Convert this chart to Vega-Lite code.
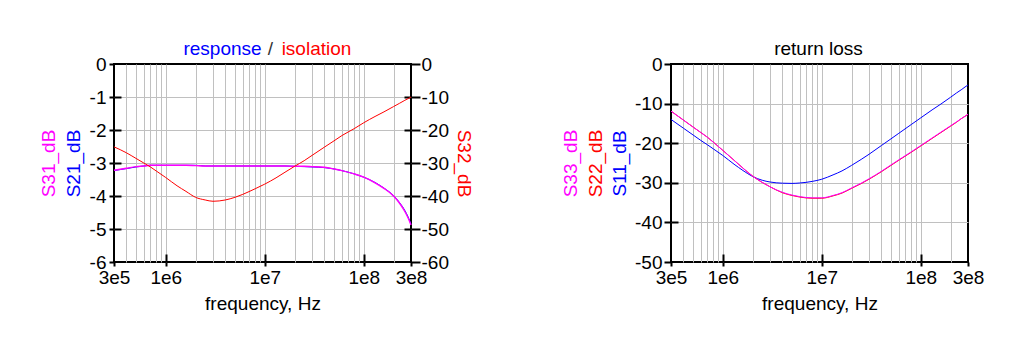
{
  "$schema": "https://vega.github.io/schema/vega-lite/v6.json",
  "background": "white",
  "padding": {"left": 38, "top": 38, "right": 0, "bottom": 0},
  "config": {
    "font": "Liberation Sans",
    "view": {"stroke": "black", "strokeWidth": 2},
    "axis": {
      "labelFont": "Liberation Sans", "titleFont": "Liberation Sans",
      "labelFontSize": 19, "titleFontSize": 19, "labelColor": "black", "titleColor": "black",
      "titleFontWeight": "normal", "gridColor": "#c0c0c0", "gridWidth": 1,
      "domain": false, "tickColor": "black", "tickWidth": 2,
      "labelFlush": false, "labelOverlap": false, "labelBound": false
    }
  },
  "datasets": {
    "left": [
      {"f": 300000, "S21": -3.23, "S31": -3.22, "S32": -25.1},
      {"f": 400000, "S21": -3.17, "S31": -3.16, "S32": -26.9},
      {"f": 500000, "S21": -3.12, "S31": -3.11, "S32": -28.6},
      {"f": 600000, "S21": -3.09, "S31": -3.09, "S32": -30.0},
      {"f": 700000, "S21": -3.07, "S31": -3.07, "S32": -31.2},
      {"f": 800000, "S21": -3.07, "S31": -3.07, "S32": -32.4},
      {"f": 1000000, "S21": -3.07, "S31": -3.07, "S32": -34.4},
      {"f": 1300000, "S21": -3.07, "S31": -3.07, "S32": -36.9},
      {"f": 1600000, "S21": -3.07, "S31": -3.07, "S32": -38.6},
      {"f": 2000000, "S21": -3.07, "S31": -3.08, "S32": -40.4},
      {"f": 2500000, "S21": -3.09, "S31": -3.09, "S32": -41.2},
      {"f": 3000000, "S21": -3.09, "S31": -3.09, "S32": -41.6},
      {"f": 4000000, "S21": -3.09, "S31": -3.09, "S32": -41.2},
      {"f": 5000000, "S21": -3.09, "S31": -3.09, "S32": -40.4},
      {"f": 6000000, "S21": -3.09, "S31": -3.09, "S32": -39.5},
      {"f": 8000000, "S21": -3.09, "S31": -3.09, "S32": -37.8},
      {"f": 10000000, "S21": -3.09, "S31": -3.09, "S32": -36.4},
      {"f": 13000000, "S21": -3.09, "S31": -3.09, "S32": -34.5},
      {"f": 16000000, "S21": -3.09, "S31": -3.09, "S32": -32.8},
      {"f": 20000000, "S21": -3.10, "S31": -3.10, "S32": -31.0},
      {"f": 25000000, "S21": -3.11, "S31": -3.10, "S32": -29.3},
      {"f": 30000000, "S21": -3.12, "S31": -3.11, "S32": -27.7},
      {"f": 40000000, "S21": -3.14, "S31": -3.13, "S32": -25.2},
      {"f": 50000000, "S21": -3.18, "S31": -3.18, "S32": -23.3},
      {"f": 60000000, "S21": -3.23, "S31": -3.23, "S32": -21.7},
      {"f": 80000000, "S21": -3.33, "S31": -3.33, "S32": -19.6},
      {"f": 100000000, "S21": -3.43, "S31": -3.43, "S32": -17.8},
      {"f": 130000000, "S21": -3.59, "S31": -3.60, "S32": -15.9},
      {"f": 160000000, "S21": -3.76, "S31": -3.77, "S32": -14.5},
      {"f": 200000000, "S21": -3.99, "S31": -4.00, "S32": -12.9},
      {"f": 230000000, "S21": -4.20, "S31": -4.22, "S32": -11.9},
      {"f": 260000000, "S21": -4.44, "S31": -4.47, "S32": -11.0},
      {"f": 280000000, "S21": -4.63, "S31": -4.66, "S32": -10.5},
      {"f": 300000000, "S21": -4.85, "S31": -4.88, "S32": -10.0}
    ],
    "right": [
      {"f": 300000, "S11": -14.0, "S22": -11.9, "S33": -11.9},
      {"f": 400000, "S11": -16.2, "S22": -14.15, "S33": -14.15},
      {"f": 500000, "S11": -17.9, "S22": -15.9, "S33": -15.9},
      {"f": 600000, "S11": -19.3, "S22": -17.3, "S33": -17.3},
      {"f": 700000, "S11": -20.4, "S22": -18.5, "S33": -18.5},
      {"f": 800000, "S11": -21.4, "S22": -19.7, "S33": -19.7},
      {"f": 1000000, "S11": -23.1, "S22": -21.8, "S33": -21.8},
      {"f": 1300000, "S11": -25.3, "S22": -24.3, "S33": -24.3},
      {"f": 1600000, "S11": -26.9, "S22": -26.3, "S33": -26.3},
      {"f": 2000000, "S11": -28.4, "S22": -28.3, "S33": -28.3},
      {"f": 2500000, "S11": -29.35, "S22": -29.9, "S33": -29.9},
      {"f": 3000000, "S11": -29.8, "S22": -31.0, "S33": -31.0},
      {"f": 4000000, "S11": -30.1, "S22": -32.5, "S33": -32.4},
      {"f": 5000000, "S11": -30.15, "S22": -33.2, "S33": -33.1},
      {"f": 6000000, "S11": -30.05, "S22": -33.6, "S33": -33.5},
      {"f": 8000000, "S11": -29.65, "S22": -33.9, "S33": -33.8},
      {"f": 10000000, "S11": -29.1, "S22": -33.9, "S33": -33.8},
      {"f": 13000000, "S11": -28.0, "S22": -33.3, "S33": -33.2},
      {"f": 16000000, "S11": -27.0, "S22": -32.6, "S33": -32.5},
      {"f": 20000000, "S11": -25.6, "S22": -31.4, "S33": -31.3},
      {"f": 25000000, "S11": -24.1, "S22": -30.2, "S33": -30.1},
      {"f": 30000000, "S11": -22.8, "S22": -29.1, "S33": -29.0},
      {"f": 40000000, "S11": -20.6, "S22": -27.2, "S33": -27.1},
      {"f": 50000000, "S11": -18.9, "S22": -25.6, "S33": -25.5},
      {"f": 60000000, "S11": -17.5, "S22": -24.3, "S33": -24.2},
      {"f": 80000000, "S11": -15.3, "S22": -22.3, "S33": -22.2},
      {"f": 100000000, "S11": -13.6, "S22": -20.7, "S33": -20.6},
      {"f": 130000000, "S11": -11.6, "S22": -18.8, "S33": -18.7},
      {"f": 160000000, "S11": -10.1, "S22": -17.3, "S33": -17.2},
      {"f": 200000000, "S11": -8.4, "S22": -15.7, "S33": -15.6},
      {"f": 230000000, "S11": -7.3, "S22": -14.7, "S33": -14.6},
      {"f": 260000000, "S11": -6.4, "S22": -13.7, "S33": -13.7},
      {"f": 280000000, "S11": -5.8, "S22": -13.2, "S33": -13.2},
      {"f": 300000000, "S11": -5.3, "S22": -12.7, "S33": -12.7}
    ]
  },
  "bounds": "flush",
  "spacing": 260,
  "hconcat": [
    {
      "width": 297, "height": 198,
      "data": {"name": "left"},
      "resolve": {"scale": {"x": "independent", "y": "independent"}},
      "layer": [
        {
          "mark": {"type": "line", "color": "#0000ff", "strokeWidth": 1, "interpolate": "monotone"},
          "encoding": {
            "x": {"field": "f", "type": "quantitative", "scale": {"type": "log", "domain": [300000, 300000000], "nice": false},
              "axis": {"orient": "bottom",
                "values": [300000, 400000, 500000, 600000, 700000, 800000, 900000, 1000000, 2000000, 3000000, 4000000, 5000000, 6000000, 7000000, 8000000, 9000000, 10000000, 20000000, 30000000, 40000000, 50000000, 60000000, 70000000, 80000000, 90000000, 100000000, 200000000, 300000000],
                "grid": true,
                "gridOpacity": {"condition": {"test": "datum.value == 300000 || datum.value == 300000000", "value": 0}, "value": 1},
                "labelExpr": "datum.value == 300000 ? '3e5' : datum.value == 1000000 ? '1e6' : datum.value == 10000000 ? '1e7' : datum.value == 100000000 ? '1e8' : datum.value == 300000000 ? '3e8' : ''",
                "tickSize": 4,
                "tickOpacity": {"condition": {"test": "datum.value == 300000 || datum.value == 1000000 || datum.value == 10000000 || datum.value == 100000000 || datum.value == 300000000", "value": 1}, "value": 0},
                "labelPadding": 2,
                "title": "frequency, Hz", "titleX": 148.5, "titleY": 47, "titleBaseline": "alphabetic", "titleAlign": "center", "titleAngle": 0}},
            "y": {"field": "S21", "type": "quantitative", "scale": {"domain": [-6, 0], "nice": false, "zero": false},
              "axis": {"orient": "left", "values": [-6, -5, -4, -3, -2, -1, 0], "grid": true,
                "gridOpacity": {"condition": {"test": "datum.value == -6 || datum.value == 0", "value": 0}, "value": 1},
                "labelExpr": "datum.value == 0 ? '0' : '-' + abs(datum.value)",
                "tickSize": 5, "labelPadding": 3,
                "title": "S21_dB", "titleColor": "#0000ff", "titleX": -34.5, "titleY": 99, "titleAngle": -90, "titleBaseline": "alphabetic", "titleAlign": "center"}}
          }
        },
        {
          "mark": {"type": "line", "color": "#ff00ff", "strokeWidth": 1.4, "interpolate": "monotone"},
          "encoding": {
            "x": {"field": "f", "type": "quantitative", "scale": {"type": "log", "domain": [300000, 300000000], "nice": false},
              "axis": {"orient": "top", "labels": false, "ticks": false, "grid": false,
                "title": "response", "titleColor": "#0000ff", "titleX": 108, "titleY": -10, "titleBaseline": "alphabetic", "titleAlign": "center", "titleAngle": 0}},
            "y": {"field": "S31", "type": "quantitative", "scale": {"domain": [-6, 0], "nice": false, "zero": false},
              "axis": {"orient": "left", "labels": false, "ticks": false, "grid": false,
                "title": "S31_dB", "titleColor": "#ff00ff", "titleX": -59.5, "titleY": 99, "titleAngle": -90, "titleBaseline": "alphabetic", "titleAlign": "center"}}
          }
        },
        {
          "mark": {"type": "line", "color": "#ff0000", "strokeWidth": 1, "interpolate": "monotone"},
          "encoding": {
            "x": {"field": "f", "type": "quantitative", "scale": {"type": "log", "domain": [300000, 300000000], "nice": false},
              "axis": {"orient": "top", "labels": false, "ticks": false, "grid": false,
                "title": "isolation", "titleColor": "#ff0000", "titleX": 202, "titleY": -10, "titleBaseline": "alphabetic", "titleAlign": "center", "titleAngle": 0}},
            "y": {"field": "S32", "type": "quantitative", "scale": {"domain": [-60, 0], "nice": false, "zero": false},
              "axis": {"orient": "right", "values": [-60, -50, -40, -30, -20, -10, 0], "grid": false,
                "labelExpr": "datum.value == 0 ? '0' : '-' + abs(datum.value)",
                "tickSize": 9, "labelPadding": 1,
                "title": "S32_dB", "titleColor": "#ff0000", "titleX": 46.5, "titleY": 99, "titleAngle": 90, "titleBaseline": "alphabetic", "titleAlign": "center"}}
          }
        },
        {
          "mark": {"type": "point", "opacity": 0, "size": 1},
          "encoding": {
            "x": {"field": "f", "type": "quantitative", "scale": {"type": "log", "domain": [300000, 300000000], "nice": false},
              "axis": {"orient": "bottom", "values": [1000000, 10000000, 100000000], "labels": false, "grid": false, "tickSize": -8, "title": null}},
            "y": {"field": "S21", "type": "quantitative", "scale": {"domain": [-6, 0], "nice": false, "zero": false},
              "axis": {"orient": "left", "values": [-5, -4, -3, -2, -1], "labels": false, "grid": false, "tickSize": -7, "title": null}}
          }
        },
        {
          "mark": {"type": "point", "opacity": 0, "size": 1},
          "encoding": {
            "x": {"field": "f", "type": "quantitative", "scale": {"type": "log", "domain": [300000, 300000000], "nice": false},
              "axis": {"orient": "top", "labels": false, "ticks": false, "grid": false,
                "title": "/", "titleColor": "#333333", "titleX": 156, "titleY": -10, "titleBaseline": "alphabetic", "titleAlign": "center", "titleAngle": 0}},
            "y": {"field": "S32", "type": "quantitative", "scale": {"domain": [-60, 0], "nice": false, "zero": false},
              "axis": {"orient": "right", "values": [-50, -40, -30, -20, -10], "labels": false, "grid": false, "tickSize": -7, "title": null}}
          }
        }
      ]
    },
    {
      "width": 297, "height": 198,
      "data": {"name": "right"},
      "resolve": {"scale": {"x": "independent", "y": "independent"}},
      "layer": [
        {
          "mark": {"type": "line", "color": "#0000ff", "strokeWidth": 1, "interpolate": "monotone"},
          "encoding": {
            "x": {"field": "f", "type": "quantitative", "scale": {"type": "log", "domain": [300000, 300000000], "nice": false},
              "axis": {"orient": "bottom",
                "values": [300000, 400000, 500000, 600000, 700000, 800000, 900000, 1000000, 2000000, 3000000, 4000000, 5000000, 6000000, 7000000, 8000000, 9000000, 10000000, 20000000, 30000000, 40000000, 50000000, 60000000, 70000000, 80000000, 90000000, 100000000, 200000000, 300000000],
                "grid": true,
                "gridOpacity": {"condition": {"test": "datum.value == 300000 || datum.value == 300000000", "value": 0}, "value": 1},
                "labelExpr": "datum.value == 300000 ? '3e5' : datum.value == 1000000 ? '1e6' : datum.value == 10000000 ? '1e7' : datum.value == 100000000 ? '1e8' : datum.value == 300000000 ? '3e8' : ''",
                "tickSize": 4,
                "tickOpacity": {"condition": {"test": "datum.value == 300000 || datum.value == 1000000 || datum.value == 10000000 || datum.value == 100000000 || datum.value == 300000000", "value": 1}, "value": 0},
                "labelPadding": 2,
                "title": "frequency, Hz", "titleX": 148.5, "titleY": 47, "titleBaseline": "alphabetic", "titleAlign": "center", "titleAngle": 0}},
            "y": {"field": "S11", "type": "quantitative", "scale": {"domain": [-50, 0], "nice": false, "zero": false},
              "axis": {"orient": "left", "values": [-50, -40, -30, -20, -10, 0], "grid": true,
                "gridOpacity": {"condition": {"test": "datum.value == -50 || datum.value == 0", "value": 0}, "value": 1},
                "labelExpr": "datum.value == 0 ? '0' : '-' + abs(datum.value)",
                "tickSize": 7, "labelPadding": 2,
                "title": "S11_dB", "titleColor": "#0000ff", "titleX": -46, "titleY": 99, "titleAngle": -90, "titleBaseline": "alphabetic", "titleAlign": "center"}}
          }
        },
        {
          "mark": {"type": "line", "color": "#ff0000", "strokeWidth": 1, "interpolate": "monotone"},
          "encoding": {
            "x": {"field": "f", "type": "quantitative", "scale": {"type": "log", "domain": [300000, 300000000], "nice": false},
              "axis": {"orient": "top", "labels": false, "ticks": false, "grid": false,
                "title": "return loss", "titleColor": "black", "titleX": 147, "titleY": -10, "titleBaseline": "alphabetic", "titleAlign": "center", "titleAngle": 0}},
            "y": {"field": "S22", "type": "quantitative", "scale": {"domain": [-50, 0], "nice": false, "zero": false},
              "axis": {"orient": "left", "labels": false, "ticks": false, "grid": false,
                "title": "S22_dB", "titleColor": "#ff0000", "titleX": -70, "titleY": 99, "titleAngle": -90, "titleBaseline": "alphabetic", "titleAlign": "center"}}
          }
        },
        {
          "mark": {"type": "line", "color": "#ff00ff", "strokeWidth": 1, "interpolate": "monotone"},
          "encoding": {
            "x": {"field": "f", "type": "quantitative", "scale": {"type": "log", "domain": [300000, 300000000], "nice": false}, "axis": null},
            "y": {"field": "S33", "type": "quantitative", "scale": {"domain": [-50, 0], "nice": false, "zero": false},
              "axis": {"orient": "left", "labels": false, "ticks": false, "grid": false,
                "title": "S33_dB", "titleColor": "#ff00ff", "titleX": -95, "titleY": 99, "titleAngle": -90, "titleBaseline": "alphabetic", "titleAlign": "center"}}
          }
        },
        {
          "mark": {"type": "point", "opacity": 0, "size": 1},
          "encoding": {
            "x": {"field": "f", "type": "quantitative", "scale": {"type": "log", "domain": [300000, 300000000], "nice": false},
              "axis": {"orient": "bottom", "values": [1000000, 10000000, 100000000], "labels": false, "grid": false, "tickSize": -8, "title": null}},
            "y": {"field": "S11", "type": "quantitative", "scale": {"domain": [-50, 0], "nice": false, "zero": false},
              "axis": {"orient": "left", "values": [-40, -30, -20, -10], "labels": false, "grid": false, "tickSize": -7, "title": null}}
          }
        }
      ]
    }
  ]
}
